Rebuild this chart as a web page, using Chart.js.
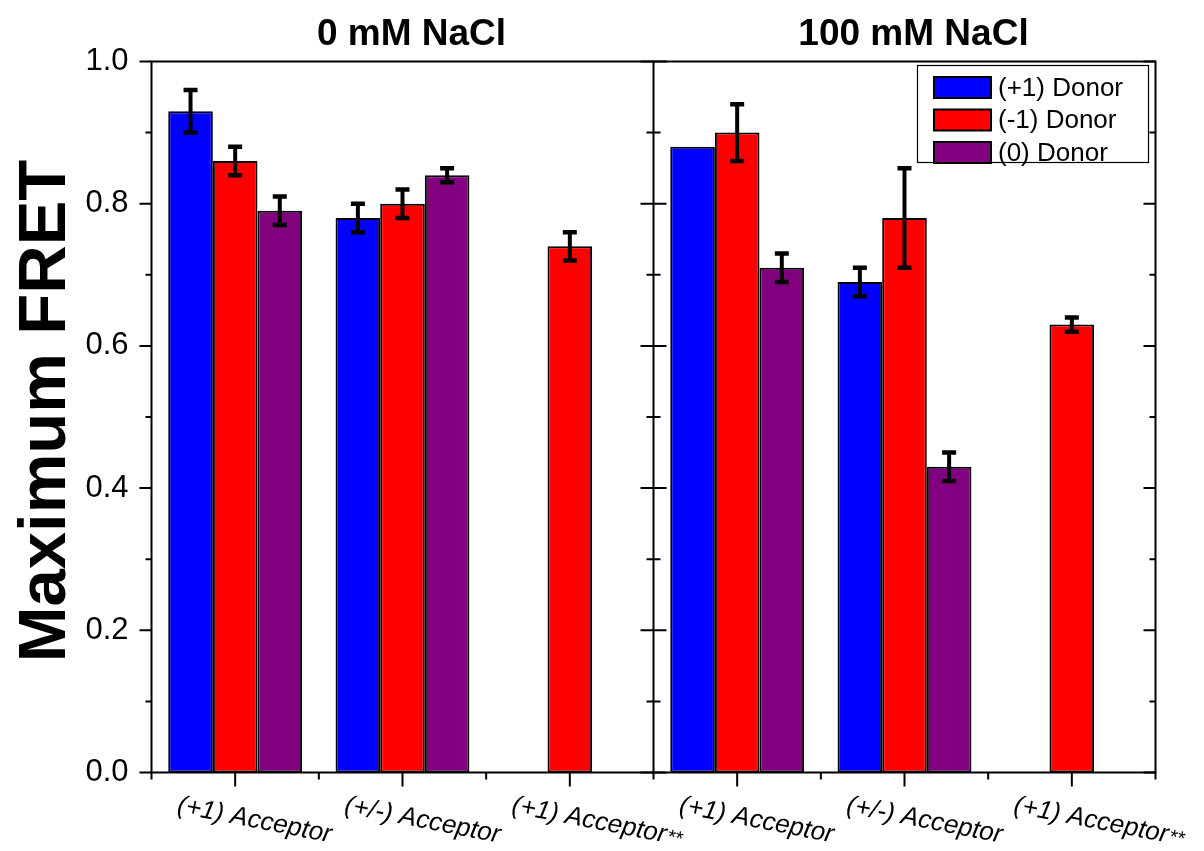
<!DOCTYPE html>
<html>
<head>
<meta charset="utf-8">
<script src="https://cdn.jsdelivr.net/npm/chart.js@4/dist/chart.umd.min.js"></script>
<style>
  html, body { margin: 0; padding: 0; background: #fff; }
  #wrap { width: 1204px; height: 851px; position: relative; }
</style>
</head>
<body>
<div id="wrap"><canvas id="c" width="1204" height="851"></canvas></div>
<script>
// ---- data ----
const categories = ['(+1) Acceptor', '(+/-) Acceptor', '(+1) Acceptor**',
                    '(+1) Acceptor', '(+/-) Acceptor', '(+1) Acceptor**'];
const panelTitles = ['0 mM NaCl', '100 mM NaCl'];
const seriesNames = ['(+1) Donor', '(-1) Donor', '(0) Donor'];
const plusOneDonor    = [0.93, 0.78, null, 0.88, 0.69, null];
const plusOneDonorErr = [0.03, 0.02, null, null, 0.02, null];
const minusOneDonor    = [0.86, 0.80, 0.74, 0.90, 0.78, 0.63];
const minusOneDonorErr = [0.02, 0.02, 0.02, 0.04, 0.07, 0.01];
const zeroDonor    = [0.79, 0.84, null, 0.71, 0.43, null];
const zeroDonorErr = [0.02, 0.01, null, 0.02, 0.02, null];
const yTicks = [0, 0.2, 0.4, 0.6, 0.8, 1.0];
const yTitle = 'Maximum FRET';

const FONT = "'Liberation Sans', Arial, Helvetica, sans-serif";
const errors = [plusOneDonorErr, minusOneDonorErr, zeroDonorErr];

const decorPlugin = {
  id: 'decor',
  afterDatasetsDraw(chart) {
    const ctx = chart.ctx, ys = chart.scales.y;
    ctx.save();
    ctx.strokeStyle = '#000';
    chart.data.datasets.forEach((ds, i) => {
      const meta = chart.getDatasetMeta(i);
      ds.data.forEach((v, j) => {
        const e = errors[i][j];
        if (v == null || e == null) return;
        const el = meta.data[j];
        const x = el.x;
        const yt = ys.getPixelForValue(v + e), yb = ys.getPixelForValue(v - e);
        ctx.lineWidth = 4;
        ctx.beginPath();
        ctx.moveTo(x, yt); ctx.lineTo(x, yb);
        ctx.stroke();
        ctx.lineWidth = 4.5;
        ctx.beginPath();
        ctx.moveTo(x - 7, yt); ctx.lineTo(x + 7, yt);
        ctx.moveTo(x - 7, yb); ctx.lineTo(x + 7, yb);
        ctx.stroke();
      });
    });
    ctx.restore();
  },
  afterDraw(chart) {
    const ctx = chart.ctx, xs = chart.scales.x, ys = chart.scales.y;
    const a = chart.chartArea;
    const L = a.left, R = a.right, T = a.top, B = a.bottom;
    const D = (xs.getPixelForTick(2) + xs.getPixelForTick(3)) / 2;
    ctx.save();
    ctx.strokeStyle = '#000';
    ctx.lineWidth = 2;
    // frame
    ctx.beginPath();
    ctx.moveTo(L, T); ctx.lineTo(R, T);
    ctx.moveTo(L, B); ctx.lineTo(R, B);
    ctx.moveTo(L, T - 1); ctx.lineTo(L, B + 1);
    ctx.moveTo(R, T - 1); ctx.lineTo(R, B + 1);
    ctx.moveTo(D, T); ctx.lineTo(D, B);
    ctx.stroke();
    // y ticks
    ctx.beginPath();
    yTicks.forEach(v => {
      const y = ys.getPixelForValue(v);
      ctx.moveTo(L - 12, y); ctx.lineTo(L, y);
      ctx.moveTo(D - 13, y); ctx.lineTo(D + 13, y);
      ctx.moveTo(R - 12, y); ctx.lineTo(R, y);
      if (v < 1) {
        const ym = ys.getPixelForValue(v + 0.1);
        ctx.moveTo(L - 6, ym); ctx.lineTo(L, ym);
        ctx.moveTo(D - 7, ym); ctx.lineTo(D + 7, ym);
        ctx.moveTo(R - 6, ym); ctx.lineTo(R, ym);
      }
    });
    // x ticks
    for (let i = 0; i < categories.length; i++) {
      const x = xs.getPixelForTick(i);
      ctx.moveTo(x, B); ctx.lineTo(x, B + 14);
      if (i > 0) {
        const xb = (xs.getPixelForTick(i - 1) + x) / 2;
        ctx.moveTo(xb, B); ctx.lineTo(xb, B + 7);
      }
    }
    ctx.moveTo(L, B); ctx.lineTo(L, B + 7);
    ctx.moveTo(R, B); ctx.lineTo(R, B + 7);
    ctx.stroke();

    // x labels (rotated)
    ctx.fillStyle = '#000';
    ctx.textAlign = 'left';
    ctx.textBaseline = 'alphabetic';
    for (let i = 0; i < categories.length; i++) {
      const x = xs.getPixelForTick(i);
      let txt = categories[i], star = '';
      if (txt.endsWith('**')) { star = '**'; txt = txt.slice(0, -2); }
      ctx.save();
      ctx.translate(x - 59, B + 40);
      ctx.rotate(11 * Math.PI / 180);
      ctx.font = 'italic 26px ' + FONT;
      ctx.fillText(txt, 0, 0);
      if (star) {
        const w = ctx.measureText(txt).width;
        ctx.font = 'italic 20px ' + FONT;
        ctx.fillText(star, w + 1, 0);
      }
      ctx.restore();
    }

    // panel titles
    ctx.font = 'bold 37px ' + FONT;
    ctx.textAlign = 'center';
    ctx.fillText(panelTitles[0], (L + D) / 2 + 9, 45);
    ctx.fillText(panelTitles[1], (D + R) / 2 + 9, 45);

    // y title
    ctx.save();
    ctx.translate(65, (T + B) / 2 - 6);
    ctx.rotate(-Math.PI / 2);
    ctx.font = 'bold 67px ' + FONT;
    ctx.textAlign = 'center';
    ctx.fillText(yTitle, 0, 0);
    ctx.restore();

    // legend
    const lx = 917, ly = 65, lw = 231, lh = 97;
    ctx.lineWidth = 1.2;
    ctx.strokeStyle = '#000';
    ctx.strokeRect(lx + 0.5, ly + 0.5, lw, lh);
    ctx.font = '26px ' + FONT;
    ctx.textAlign = 'left';
    ctx.textBaseline = 'middle';
    chart.data.datasets.forEach((ds, i) => {
      const cy = 87.5 + i * 32.5;
      ctx.fillStyle = ds.backgroundColor;
      ctx.fillRect(934, cy - 10.5, 57, 21);
      ctx.lineWidth = 2;
      ctx.strokeStyle = '#000';
      ctx.strokeRect(934, cy - 10.5, 57, 21);
      ctx.fillStyle = '#000';
      ctx.fillText(ds.label, 998, cy + 1);
    });
    ctx.restore();
  }
};

const colors = ['#0000ff', '#ff0000', '#800080'];
const seriesData = [plusOneDonor, minusOneDonor, zeroDonor];

new Chart(document.getElementById('c'), {
  type: 'bar',
  data: {
    labels: categories,
    datasets: seriesData.map((d, i) => ({
      label: seriesNames[i],
      data: d,
      backgroundColor: colors[i],
      borderColor: '#000',
      borderWidth: 2,
      borderSkipped: false,
      categoryPercentage: 0.8,
      barPercentage: 1.0
    }))
  },
  options: {
    responsive: false,
    animation: false,
    layout: { padding: { top: 61.5, right: 48.5, bottom: 0, left: 0 } },
    plugins: { legend: { display: false }, tooltip: { enabled: false }, title: { display: false } },
    scales: {
      x: {
        grid: { display: false, drawTicks: false },
        border: { display: false },
        ticks: { display: false },
        afterFit(s) { s.height = 78.5; }
      },
      y: {
        min: 0, max: 1,
        grid: { display: false, drawTicks: false, tickLength: 0 },
        border: { display: false },
        ticks: {
          stepSize: 0.2,
          padding: 23,
          color: '#000',
          font: { family: FONT, size: 31 },
          callback: v => Number(v).toFixed(1)
        },
        afterFit(s) { s.width = 151.5; }
      }
    }
  },
  plugins: [decorPlugin]
});
</script>
</body>
</html>
